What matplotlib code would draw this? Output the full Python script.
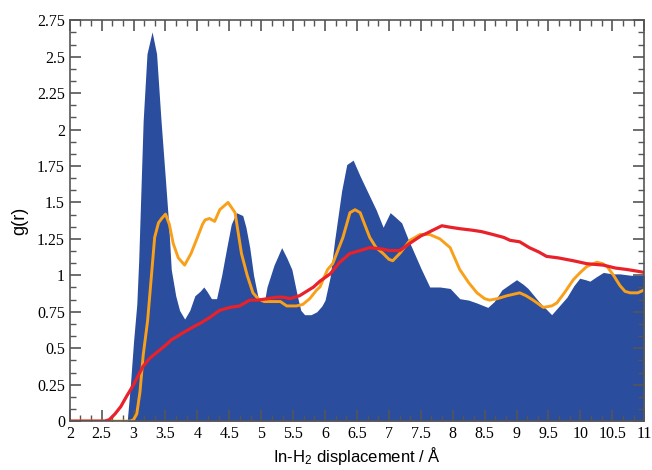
import numpy as np
import matplotlib
matplotlib.use('Agg')
import matplotlib.pyplot as plt
from matplotlib.ticker import MultipleLocator, FormatStrFormatter

# --- DONNEES ---
# g(r) rempli (bleu)
r_fill = [2.0, 2.9, 2.95, 3.0, 3.05, 3.08, 3.12, 3.15, 3.21, 3.29, 3.36, 3.43, 3.5, 3.55,
          3.59, 3.66, 3.72, 3.8, 3.88, 3.96, 4.04, 4.1, 4.15, 4.22, 4.3, 4.38, 4.46, 4.53,
          4.61, 4.71, 4.76, 4.82, 4.88, 4.95, 5.0, 5.05, 5.09, 5.2, 5.32, 5.4, 5.48, 5.57,
          5.62, 5.68, 5.78, 5.87, 5.95, 6.0, 6.08, 6.15, 6.26, 6.34, 6.44, 6.55, 6.68, 6.8,
          6.91, 7.02, 7.1, 7.2, 7.3, 7.38, 7.5, 7.64, 7.8, 7.96, 8.11, 8.25, 8.38, 8.55,
          8.65, 8.77, 8.9, 9.0, 9.1, 9.18, 9.35, 9.55, 9.65, 9.79, 9.9, 9.99, 10.08, 10.15,
          10.25, 10.36, 10.5, 10.62, 10.8, 11.0]
g_fill = [0.0, 0.0, 0.25, 0.55, 0.8, 1.1, 1.65, 2.06, 2.52, 2.67, 2.52, 2.06, 1.65, 1.35,
          1.04, 0.86, 0.76, 0.70, 0.76, 0.86, 0.89, 0.92, 0.89, 0.84, 0.84, 1.0, 1.19, 1.35,
          1.43, 1.41, 1.33, 1.19, 1.0, 0.85, 0.82, 0.82, 0.92, 1.07, 1.19, 1.12, 1.04, 0.85,
          0.76, 0.73, 0.73, 0.75, 0.79, 0.83, 0.99, 1.24, 1.58, 1.76, 1.79, 1.68, 1.56, 1.45,
          1.33, 1.43, 1.40, 1.36, 1.25, 1.17, 1.05, 0.92, 0.92, 0.91, 0.84, 0.83, 0.81, 0.78,
          0.82, 0.90, 0.94, 0.97, 0.94, 0.91, 0.82, 0.73, 0.78, 0.85, 0.93, 0.98, 0.97, 0.96,
          0.99, 1.02, 1.01, 1.01, 1.0, 1.0]

# courbe orange
r_orange = [2.0, 2.95, 3.0, 3.05, 3.1, 3.15, 3.22, 3.28, 3.33, 3.39, 3.44, 3.5, 3.56, 3.62,
            3.7, 3.8, 3.9, 4.0, 4.08, 4.12, 4.19, 4.27, 4.35, 4.48, 4.59, 4.69, 4.78, 4.87,
            4.95, 5.05, 5.21, 5.3, 5.4, 5.55, 5.65, 5.76, 5.87, 5.92, 6.04, 6.12, 6.28, 6.39,
            6.47, 6.55, 6.62, 6.7, 6.8, 6.91, 7.0, 7.06, 7.17, 7.33, 7.49, 7.64, 7.8, 7.96,
            8.11, 8.25, 8.38, 8.5, 8.58, 8.7, 8.85, 9.05, 9.15, 9.26, 9.42, 9.55, 9.63, 9.75,
            9.89, 10.0, 10.1, 10.26, 10.35, 10.42, 10.52, 10.62, 10.7, 10.78, 10.9, 11.0]
g_orange = [0.0, 0.0, 0.01, 0.05, 0.2, 0.45, 0.69, 1.0, 1.26, 1.36, 1.39, 1.42, 1.35, 1.22,
            1.12, 1.07, 1.15, 1.26, 1.35, 1.38, 1.39, 1.37, 1.45, 1.50, 1.43, 1.15, 1.0, 0.88,
            0.84, 0.82, 0.82, 0.82, 0.79, 0.79, 0.80, 0.84, 0.90, 0.92, 1.04, 1.08, 1.26, 1.43,
            1.45, 1.43, 1.35, 1.26, 1.19, 1.15, 1.11, 1.10, 1.15, 1.24, 1.28, 1.28, 1.25, 1.19,
            1.04, 0.95, 0.88, 0.84, 0.83, 0.84, 0.86, 0.88, 0.86, 0.83, 0.78, 0.79, 0.81, 0.88,
            0.97, 1.02, 1.06, 1.09, 1.08, 1.06, 1.0, 0.93, 0.89, 0.88, 0.88, 0.90]

# courbe rouge
r_red = [2.0, 2.55, 2.62, 2.71, 2.8, 2.89, 3.0, 3.14, 3.25, 3.36, 3.5, 3.6, 3.68, 3.75, 3.83,
         3.95, 4.04, 4.19, 4.35, 4.51, 4.66, 4.82, 4.95, 5.1, 5.24, 5.35, 5.45, 5.6, 5.71,
         5.82, 5.92, 6.08, 6.23, 6.39, 6.55, 6.7, 6.9, 7.0, 7.17, 7.33, 7.5, 7.6, 7.69, 7.83,
         7.96, 8.11, 8.3, 8.45, 8.63, 8.8, 8.9, 9.05, 9.2, 9.35, 9.47, 9.65, 9.89, 10.1,
         10.36, 10.55, 10.73, 10.87, 11.0]
g_red = [0.0, 0.0, 0.01, 0.05, 0.1, 0.17, 0.25, 0.37, 0.43, 0.47, 0.52, 0.56, 0.58, 0.60, 0.62,
         0.65, 0.67, 0.71, 0.76, 0.78, 0.79, 0.83, 0.83, 0.84, 0.85, 0.85, 0.84, 0.86, 0.89,
         0.92, 0.96, 1.01, 1.09, 1.15, 1.17, 1.19, 1.18, 1.17, 1.17, 1.22, 1.27, 1.29, 1.31, 1.34,
         1.33, 1.32, 1.31, 1.30, 1.28, 1.26, 1.24, 1.23, 1.19, 1.16, 1.13, 1.12, 1.10, 1.08,
         1.07, 1.05, 1.04, 1.03, 1.02]

# --- FIGURE ---
plt.rcParams['mathtext.default'] = 'regular'
fig = plt.figure(figsize=(6.52, 4.70), dpi=100)
ax = fig.add_axes([0.107, 0.104, 0.881, 0.853])

ax.fill_between(r_fill, g_fill, 0, color='#2a4d9e', lw=0, zorder=1)
ax.plot(r_orange, g_orange, color='#f9a01b', lw=2.1, zorder=2, solid_joinstyle='round')
ax.plot(r_red, g_red, color='#e8212b', lw=2.3, zorder=3, solid_joinstyle='round')

ax.set_xlim(2, 11)
ax.set_ylim(0, 2.75)

ax.xaxis.set_major_locator(MultipleLocator(0.5))
ax.xaxis.set_minor_locator(MultipleLocator(0.5 / 3))
ax.yaxis.set_major_locator(MultipleLocator(0.25))
ax.yaxis.set_minor_locator(MultipleLocator(0.25 / 3))
ax.xaxis.set_major_formatter(FormatStrFormatter('%g'))
ax.yaxis.set_major_formatter(FormatStrFormatter('%g'))

ax.tick_params(which='both', direction='in', top=True, right=True, color='#555555', zorder=5)
ax.tick_params(which='major', length=8, width=1.2)
ax.tick_params(which='minor', length=4, width=1.0)
for lab in ax.get_xticklabels() + ax.get_yticklabels():
    lab.set_family('Liberation Serif')
    lab.set_fontsize(11.5)
for sp in ax.spines.values():
    sp.set_color('#555555')
    sp.set_linewidth(1.2)
    sp.set_zorder(5)

ax.set_xlabel('In-H$_2$ displacement / Å', family='Liberation Sans', fontsize=12, labelpad=2)
ax.set_ylabel('g(r)', family='Liberation Sans', fontsize=13, labelpad=6)

fig.savefig('out.png', dpi=100)
